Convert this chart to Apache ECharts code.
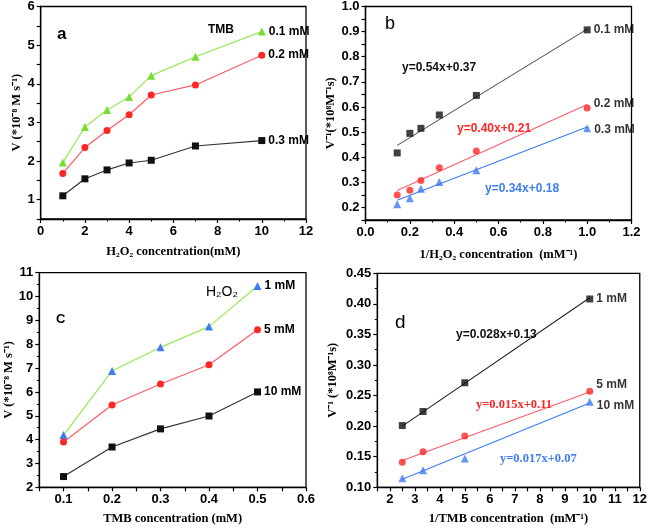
<!DOCTYPE html>
<html><head><meta charset="utf-8">
<script src="https://cdn.jsdelivr.net/npm/echarts@6/dist/echarts.min.js"></script>
<style>html,body{margin:0;padding:0;background:#fff}#c{width:650px;height:528px}</style>
</head><body><div id="c"></div>
<script>
// ---- Panel a: V vs H2O2 concentration ----
var aX = [1, 2, 3, 4, 5, 7, 10];
var aNames = ['0.1 mM', '0.2 mM', '0.3 mM'];
var aTMB01 = [1.96, 2.88, 3.32, 3.66, 4.21, 4.70, 5.35];
var aTMB02 = [1.68, 2.35, 2.79, 3.20, 3.71, 3.97, 4.74];
var aTMB03 = [1.10, 1.54, 1.77, 1.95, 2.02, 2.39, 2.53];

// ---- Panel b: Lineweaver-Burk vs 1/H2O2 ----
var bX = [0.143, 0.2, 0.25, 0.333, 0.5, 1.0];
var bNames = ['0.1 mM', '0.2 mM', '0.3 mM'];
var bTMB01 = [0.417, 0.495, 0.515, 0.568, 0.646, 0.907];
var bTMB02 = [0.250, 0.268, 0.307, 0.358, 0.425, 0.596];
var bTMB03 = [0.213, 0.237, 0.274, 0.301, 0.348, 0.515];
var bFitX = [0.143, 1.0];
var bFit01 = [0.447, 0.910];
var bFit02 = [0.267, 0.610];
var bFit03 = [0.229, 0.520];
var bEq = ['y=0.54x+0.37', 'y=0.40x+0.21', 'y=0.34x+0.18'];

// ---- Panel c: V vs TMB concentration ----
var cX = [0.1, 0.2, 0.3, 0.4, 0.5];
var cNames = ['1 mM', '5 mM', '10 mM'];
var cH1 = [4.19, 6.88, 7.87, 8.74, 10.44];
var cH5 = [3.90, 5.45, 6.33, 7.14, 8.61];
var cH10 = [2.45, 3.69, 4.45, 4.99, 6.00];

// ---- Panel d: Lineweaver-Burk vs 1/TMB ----
var dX = [2.5, 3.33, 5, 10];
var dNames = ['1 mM', '5 mM', '10 mM'];
var dH1 = [0.201, 0.224, 0.271, 0.408];
var dH5 = [0.141, 0.158, 0.184, 0.257];
var dH10 = [0.115, 0.128, 0.147, 0.240];
var dFitX = [2.5, 10];
var dFit1 = [0.200, 0.410];
var dFit5 = [0.144, 0.256];
var dFit10 = [0.113, 0.238];
var dEq = ['y=0.028x+0.13', 'y=0.015x+0.11', 'y=0.017x+0.07'];

var GREEN = '#77dd33', GREENL = '#99e855', RED = '#ff2626', REDL = '#ff5a6a', BLUE = '#3d7cf5', BLACK = '#111111', GRAYL = '#4a5a50';
var SANS = 'Liberation Sans, Arial, sans-serif';
var SERIF = 'Liberation Serif, Times New Roman, serif';

function isMult(v, step) { var r = v / step; return Math.abs(r - Math.round(r)) < 1e-6; }
function fmt(step, dec) { return function (v) { return isMult(v, step) ? v.toFixed(dec) : ''; }; }

var grids = [
  { left: 40.7, right: 344, top: 6, bottom: 309 },
  { left: 365.5, right: 18.5, top: 6, bottom: 308 },
  { left: 39.3, right: 344, top: 272.7, bottom: 40.7 },
  { left: 377.3, right: 7.3, top: 273.3, bottom: 40.7 }
].map(function (g) { return Object.assign({ show: true, borderColor: '#000', borderWidth: 1.3, backgroundColor: 'transparent' }, g); });

function axisBase(extra) {
  return Object.assign({
    type: 'value',
    axisLine: { show: true, onZero: false, lineStyle: { color: '#000', width: 1.3 } },
    axisTick: { show: true, inside: false, length: 4, lineStyle: { color: '#000', width: 1.2 } },
    splitLine: { show: false },
    axisLabel: { color: '#000', fontFamily: SANS, fontWeight: 'bold', fontSize: 13, margin: 6 },
    nameLocation: 'middle',
    nameTextStyle: { color: '#000', fontFamily: SERIF, fontWeight: 'bold', fontSize: 12.5 }
  }, extra);
}
function minor(n) { return { show: true, splitNumber: n, length: 2.5, lineStyle: { color: '#000', width: 1 } }; }

var xAxes = [
  axisBase({ gridIndex: 0, min: 0, max: 12, interval: 2, minorTick: minor(2), name: 'H₂O₂ concentration(mM)', nameGap: 26 }),
  axisBase({ gridIndex: 1, min: 0, max: 1.2, interval: 0.2, minorTick: minor(2), name: '1/H₂O₂ concentration  (mM⁻¹)', nameGap: 28,
    axisLabel: { color: '#000', fontFamily: SANS, fontWeight: 'bold', fontSize: 13, margin: 6, formatter: function (v) { return v.toFixed(1); } } }),
  axisBase({ gridIndex: 2, min: 0.05, max: 0.6, interval: 0.05, name: 'TMB concentration (mM)', nameGap: 25,
    axisLabel: { color: '#000', fontFamily: SANS, fontWeight: 'bold', fontSize: 13, margin: 6, formatter: fmt(0.1, 1) } }),
  axisBase({ gridIndex: 3, min: 1.5, max: 12, interval: 0.5, name: '1/TMB concentration  (mM⁻¹)', nameGap: 25,
    axisLabel: { color: '#000', fontFamily: SANS, fontWeight: 'bold', fontSize: 13, margin: 6, formatter: fmt(1, 0) } })
];
var yAxes = [
  axisBase({ gridIndex: 0, min: 0.5, max: 6, interval: 0.5, name: 'V (*10⁻⁸ M s⁻¹)', nameGap: 17,
    axisLabel: { color: '#000', fontFamily: SANS, fontWeight: 'bold', fontSize: 13, margin: 6, formatter: fmt(1, 0) } }),
  axisBase({ gridIndex: 1, min: 0.15, max: 1.0, interval: 0.05, name: 'V⁻¹(*10⁸M⁻¹s)', nameGap: 28,
    axisLabel: { color: '#000', fontFamily: SANS, fontWeight: 'bold', fontSize: 13, margin: 6, formatter: fmt(0.1, 1) } }),
  axisBase({ gridIndex: 2, min: 2, max: 11, interval: 1, minorTick: minor(2), name: 'V (*10⁻⁸ M s⁻¹)', nameGap: 24 }),
  axisBase({ gridIndex: 3, min: 0.1, max: 0.45, interval: 0.05, minorTick: minor(2), name: 'V⁻¹ (*10⁸M⁻¹s)', nameGap: 38,
    axisLabel: { color: '#000', fontFamily: SANS, fontWeight: 'bold', fontSize: 13, margin: 6, formatter: function (v) { return v.toFixed(2); } } })
];

function pairs(xs, ys) { return xs.map(function (x, i) { return [x, ys[i]]; }); }
function withEndLabel(xs, ys, name, off) {
  var d = pairs(xs, ys);
  var last = d.length - 1;
  d[last] = { value: d[last], label: { show: true, position: 'right', distance: 3, offset: off || [0, 0], formatter: name,
    color: '#000', fontFamily: SANS, fontWeight: 'bold', fontSize: 12 } };
  return d;
}
function lineSeries(idx, xs, ys, name, sym, size, col, lineCol, off) {
  return { type: 'line', xAxisIndex: idx, yAxisIndex: idx, data: withEndLabel(xs, ys, name, off), symbol: sym, symbolSize: size,
    itemStyle: { color: col }, lineStyle: { color: lineCol, width: 1.2 }, animation: false, z: 3 };
}
function scatterSeries(idx, xs, ys, name, sym, size, col, off) {
  return { type: 'scatter', xAxisIndex: idx, yAxisIndex: idx, data: withEndLabel(xs, ys, name, off), symbol: sym, symbolSize: size,
    itemStyle: { color: col }, animation: false, z: 4 };
}
function fitSeries(idx, xs, ys, col) {
  return { type: 'line', xAxisIndex: idx, yAxisIndex: idx, data: pairs(xs, ys), symbol: 'none',
    lineStyle: { color: col, width: 1.1 }, animation: false, z: 2, silent: true };
}

var series = [
  lineSeries(0, aX, aTMB01, aNames[0], 'triangle', 8, GREEN, GREENL),
  lineSeries(0, aX, aTMB02, aNames[1], 'circle', 7, RED, REDL),
  lineSeries(0, aX, aTMB03, aNames[2], 'rect', 7, BLACK, '#333'),

  fitSeries(1, bFitX, bFit01, GRAYL),
  fitSeries(1, bFitX, bFit02, REDL),
  fitSeries(1, bFitX, bFit03, BLUE),
  scatterSeries(1, bX, bTMB01, bNames[0], 'rect', 7, BLACK),
  scatterSeries(1, bX, bTMB02, bNames[1], 'circle', 7, RED, [0, -4]),
  scatterSeries(1, bX, bTMB03, bNames[2], 'triangle', 8, BLUE, [0, 1]),

  lineSeries(2, cX, cH1, cNames[0], 'triangle', 8, BLUE, GREENL),
  lineSeries(2, cX, cH5, cNames[1], 'circle', 7, RED, REDL),
  lineSeries(2, cX, cH10, cNames[2], 'rect', 7, BLACK, '#333'),

  fitSeries(3, dFitX, dFit1, '#222'),
  fitSeries(3, dFitX, dFit5, REDL),
  fitSeries(3, dFitX, dFit10, BLUE),
  scatterSeries(3, dX, dH1, dNames[0], 'rect', 7, BLACK),
  scatterSeries(3, dX, dH5, dNames[1], 'circle', 7, RED, [0, -7]),
  scatterSeries(3, dX, dH10, dNames[2], 'triangle', 8, BLUE, [0, 4])
];

function txt(x, y, s, opt) {
  return { type: 'text', left: x, top: y, style: Object.assign({ text: s, fill: '#000', font: 'bold 12px ' + SANS, textVerticalAlign: 'middle' }, opt || {}), z: 10 };
}

var graphics = [
  txt(57, 26, 'a', { font: 'bold 17px ' + SANS }),
  txt(208, 24, 'TMB', { font: 'bold 12px ' + SANS }),
  txt(385, 15, 'b', { font: '18px ' + SANS }),
  txt(402, 62, bEq[0], { font: 'bold 12px ' + SANS, fill: BLACK }),
  txt(457, 123, bEq[1], { font: 'bold 12px ' + SANS, fill: RED }),
  txt(485, 183, bEq[2], { font: 'bold 12px ' + SANS, fill: BLUE }),
  txt(56, 313, 'C', { font: 'bold 13px ' + SANS }),
  txt(206, 285, 'H₂O₂', { font: '14px ' + SANS }),
  txt(395, 313, 'd', { font: '19px ' + SANS }),
  txt(456, 329, dEq[0], { font: 'bold 12px ' + SANS, fill: BLACK }),
  txt(476, 398, dEq[1], { font: 'bold 12.5px ' + SERIF, fill: RED }),
  txt(500, 452, dEq[2], { font: 'bold 12.5px ' + SERIF, fill: BLUE })
];

var chart = echarts.init(document.getElementById('c'), null, { renderer: 'canvas' });
chart.setOption({ animation: false, backgroundColor: '#fff', grid: grids, xAxis: xAxes, yAxis: yAxes, series: series, graphic: graphics });
</script></body></html>
